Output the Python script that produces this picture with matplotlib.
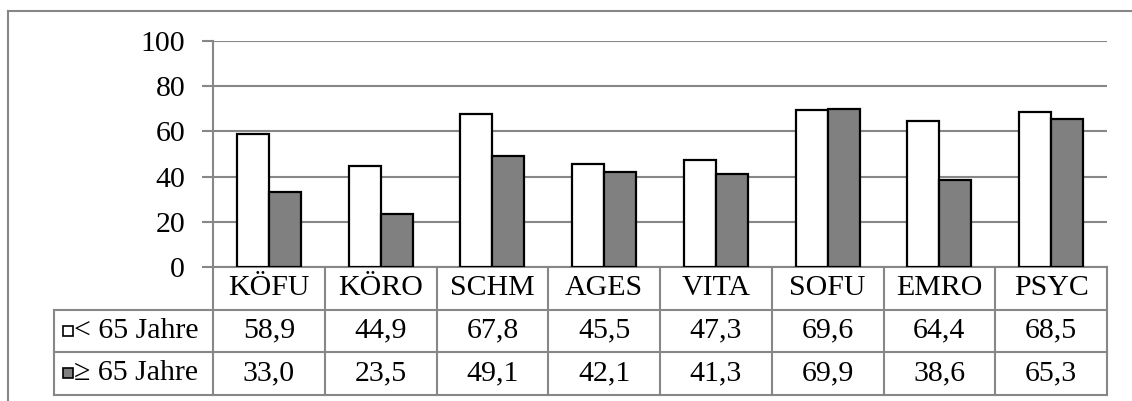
import numpy as np
import matplotlib.pyplot as plt
from matplotlib.lines import Line2D
from matplotlib.patches import Rectangle

# Scale scores by age group
categories = ["KÖFU", "KÖRO", "SCHM", "AGES", "VITA", "SOFU", "EMRO", "PSYC"]
under_65 = [58.9, 44.9, 67.8, 45.5, 47.3, 69.6, 64.4, 68.5]
over_65 = [33.0, 23.5, 49.1, 42.1, 41.3, 69.9, 38.6, 65.3]
series_labels = ["< 65 Jahre", "≥ 65 Jahre"]
yticks = [0, 20, 40, 60, 80, 100]

plt.rcParams['font.family'] = ['Liberation Serif', 'DejaVu Serif']
FS = 21.5
GRID = "#878787"

W, H = 1132, 401
fig = plt.figure(figsize=(W / 100, H / 100), dpi=100)

# axes placed in pixel units
left, right, top, bottom = 213, 1107, 41, 267
ax = fig.add_axes([left / W, 1 - bottom / H, (right - left) / W, (bottom - top) / H])

x = np.arange(len(categories))
bw = 0.286
ax.bar(x - bw / 2, under_65, bw, color="white", edgecolor="black", linewidth=1.6, zorder=3)
ax.bar(x + bw / 2, over_65, bw, color="#808080", edgecolor="black", linewidth=1.6, zorder=3)

ax.set_xlim(-0.5, len(categories) - 0.5)
ax.set_ylim(0, 100)
ax.set_yticks(yticks)
ax.set_xticks([])
ax.yaxis.grid(True, color=GRID, linewidth=1.5, zorder=0)
ax.tick_params(axis="y", length=8, width=1.5, color=GRID, pad=12, labelsize=FS)
for s in ["top", "right"]:
    ax.spines[s].set_visible(False)
for s in ["left", "bottom"]:
    ax.spines[s].set_color(GRID)
    ax.spines[s].set_linewidth(1.5)

# data table below the plot
ah = bottom - top
aw = right - left
row_h = 42.5 / ah
leg_x = (54 - left) / aw
tr = ax.transAxes

def hline(y, x0, x1):
    ax.add_line(Line2D([x0, x1], [y, y], transform=tr, color=GRID, lw=1.5, clip_on=False))

def vline(xx, y0, y1):
    ax.add_line(Line2D([xx, xx], [y0, y1], transform=tr, color=GRID, lw=1.5, clip_on=False))

hline(-row_h, leg_x, 1)
hline(-2 * row_h, leg_x, 1)
hline(-3 * row_h, leg_x, 1)
vline(leg_x, -row_h, -3 * row_h)
for i in range(len(categories) + 1):
    vline(i / len(categories), 0, -3 * row_h)

for i, cat in enumerate(categories):
    cx = (i + 0.5) / len(categories)
    ax.text(cx, -0.5 * row_h, cat, transform=tr, ha="center", va="center", fontsize=FS)
    for r, vals in enumerate([under_65, over_65]):
        ax.text(cx, -(1.5 + r) * row_h, f"{vals[i]:.1f}".replace(".", ","),
                transform=tr, ha="center", va="center", fontsize=FS)

# legend keys inside the table
key_w = 10 / aw
key_h = 10 / ah
for r, (lab, fc) in enumerate(zip(series_labels, ["white", "#808080"])):
    cy = -(1.5 + r) * row_h
    kx = (63 - left) / aw
    ax.add_patch(Rectangle((kx, cy - key_h / 2), key_w, key_h, transform=tr,
                           facecolor=fc, edgecolor="black", lw=1.2, clip_on=False))
    ax.text((74 - left) / aw, cy, lab, transform=tr, ha="left", va="center", fontsize=FS)

# chart border
fig.add_artist(Line2D([8 / W, 8 / W], [1 - 11 / H, 0], transform=fig.transFigure, color=GRID, lw=1.5))
fig.add_artist(Line2D([8 / W, 1], [1 - 11 / H, 1 - 11 / H], transform=fig.transFigure, color=GRID, lw=1.5))

fig.savefig("out.png", dpi=100)
